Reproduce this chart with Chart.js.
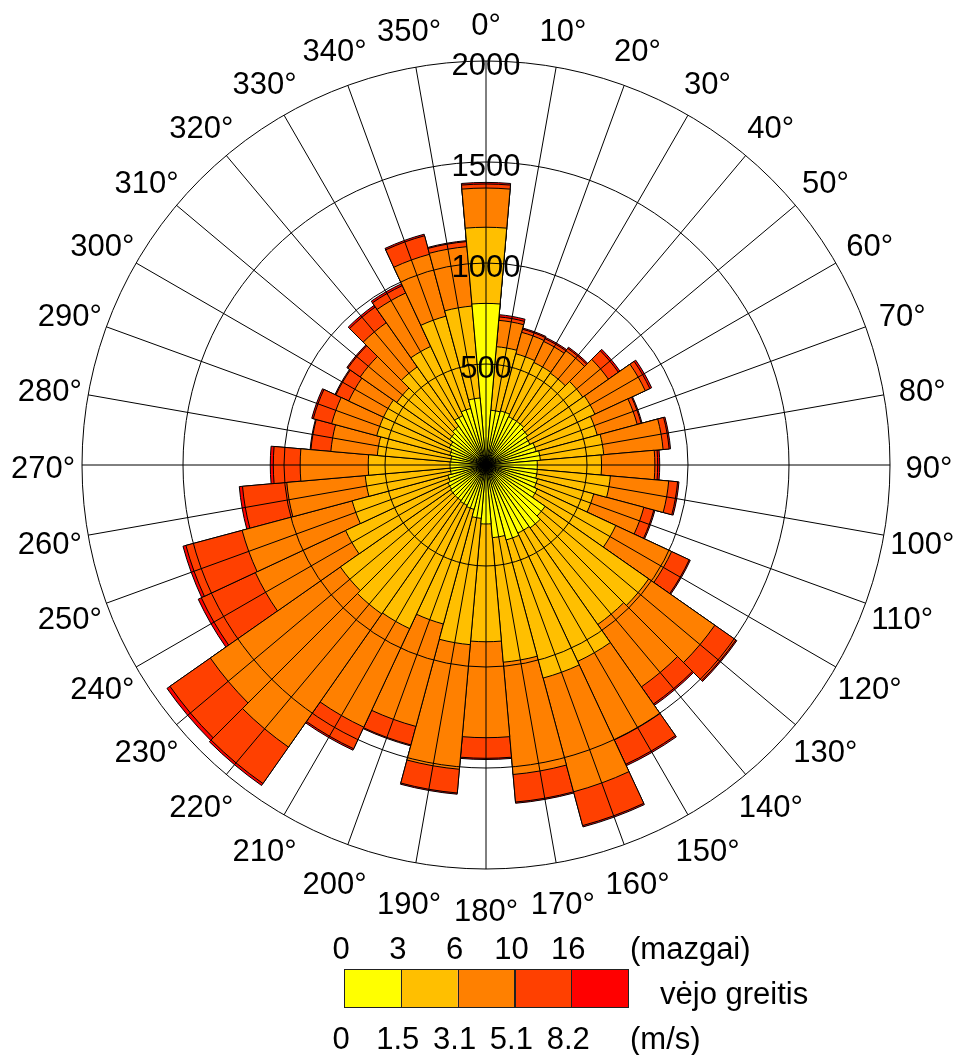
<!DOCTYPE html>
<html>
<head>
<meta charset="utf-8">
<script src="https://cdn.jsdelivr.net/npm/chart.js@4.4.1/dist/chart.umd.min.js"></script>
<style>
  html, body { margin: 0; padding: 0; background: #fff; }
  #wrap { position: relative; width: 958px; height: 1055px; }
</style>
</head>
<body>
<div id="wrap"><canvas id="rose" width="958" height="1055"></canvas></div>
<script>
// krypčių sektoriai (laipsniais), po 10°
const directions = [0, 10, 20, 30, 40, 50, 60, 70, 80, 90, 100, 110, 120, 130, 140, 150, 160, 170,
                    180, 190, 200, 210, 220, 230, 240, 250, 260, 270, 280, 290, 300, 310, 320, 330, 340, 350];

// stebėjimų skaičius kiekvienoje greičio klasėje
const speed0to15 = [800, 272, 277, 264, 264, 252, 240, 257, 270, 254, 255, 264, 280, 357, 380, 372, 384, 361,
                    292, 265, 227, 220, 215, 214, 208, 195, 178, 178, 175, 185, 200, 220, 234, 270, 290, 333];
const speed15to31 = [377, 316, 293, 296, 291, 333, 355, 313, 315, 318, 363, 288, 429, 626, 584, 701, 708, 619,
                     583, 628, 588, 674, 685, 666, 559, 491, 422, 405, 365, 375, 360, 319, 359, 378, 473, 457];
const speed31to51 = [194, 131, 110, 115, 135, 155, 275, 205, 295, 264, 290, 257, 305, 400, 377, 429, 583, 558,
                     475, 619, 525, 538, 805, 786, 493, 564, 390, 337, 231, 231, 190, 221, 267, 292, 317, 295];
const speed51to82 = [20, 17, 16, 15, 15, 60, 25, 20, 30, 14, 44, 51, 96, 127, 104, 133, 173, 137,
                     102, 118, 95, 118, 220, 244, 295, 288, 220, 133, 99, 94, 70, 75, 95, 40, 95, 25];
const speedOver82 = [8, 11, 6, 7, 7, 10, 10, 5, 7, 10, 7, 6, 6, 6, 8, 8, 7, 6,
                     6, 6, 5, 8, 12, 18, 17, 15, 16, 15, 4, 8, 5, 6, 10, 10, 8, 5];

const radialTicks = [500, 1000, 1500, 2000];
const knotLabels = ['0', '3', '6', '10', '16'];
const msLabels = ['0', '1.5', '3.1', '5.1', '8.2'];
const binColors = ['#ffff00', '#ffbf00', '#ff8000', '#ff4000', '#ff0000'];

// kaupiamosios sumos: kiekvienas sluoksnis piešiamas nuo centro
const bins = [speed0to15, speed15to31, speed31to51, speed51to82, speedOver82];
const cumulative = [];
let running = directions.map(() => 0);
bins.forEach(b => {
    running = running.map((v, i) => v + b[i]);
    cumulative.push(running.slice());
});

const FONT = '31px "Liberation Sans", Arial, sans-serif';

const overlay = {
    id: 'overlay',
    afterDatasetsDraw(chart) {
        const ctx = chart.ctx;
        const sc = chart.scales.r;
        const cx = sc.xCenter, cy = sc.yCenter;
        const R = sc.getDistanceFromCenterForValue(2000);
        ctx.save();
        ctx.strokeStyle = '#000';
        ctx.lineWidth = 1;
        radialTicks.forEach(v => {
            ctx.beginPath();
            ctx.arc(cx, cy, sc.getDistanceFromCenterForValue(v), 0, Math.PI * 2);
            ctx.stroke();
        });
        directions.forEach(d => {
            const a = (d - 90) * Math.PI / 180;
            ctx.beginPath();
            ctx.moveTo(cx, cy);
            ctx.lineTo(cx + R * Math.cos(a), cy + R * Math.sin(a));
            ctx.stroke();
        });
        ctx.fillStyle = '#000';
        ctx.font = FONT;
        ctx.textAlign = 'center';
        ctx.textBaseline = 'middle';
        radialTicks.forEach(v => {
            ctx.fillText(String(v), cx, cy - sc.getDistanceFromCenterForValue(v) + 5);
        });
        const labR = R + 39;
        directions.forEach(d => {
            const a = (d - 90) * Math.PI / 180;
            ctx.fillText(d + '°', cx + labR * Math.cos(a), cy + labR * Math.sin(a) + 4);
        });
        ctx.restore();
    },
    afterDraw(chart) {
        // legenda apačioje
        const ctx = chart.ctx;
        const x0 = 344, w = 56.8, y0 = 969, h = 38;
        ctx.save();
        binColors.forEach((c, i) => {
            ctx.fillStyle = c;
            ctx.fillRect(x0 + i * w, y0, w, h);
        });
        ctx.strokeStyle = '#222';
        ctx.lineWidth = 1;
        binColors.forEach((c, i) => ctx.strokeRect(Math.round(x0 + i * w) + 0.5, y0 + 0.5, Math.round(w), h));
        ctx.fillStyle = '#000';
        ctx.font = FONT;
        ctx.textBaseline = 'middle';
        ctx.textAlign = 'center';
        knotLabels.forEach((t, i) => ctx.fillText(t, x0 + i * w - 3, 950));
        msLabels.forEach((t, i) => ctx.fillText(t, x0 + i * w - 3, 1040));
        ctx.textAlign = 'left';
        ctx.fillText('(mazgai)', 630, 950);
        ctx.fillText('vėjo greitis', 660, 995);
        ctx.fillText('(m/s)', 630, 1040);
        ctx.restore();
    }
};

new Chart(document.getElementById('rose'), {
    type: 'polarArea',
    data: {
        labels: directions.map(d => d + '°'),
        datasets: cumulative.map((vals, i) => ({
            label: knotLabels[i],
            data: vals,
            backgroundColor: binColors[i],
            borderColor: '#000',
            borderWidth: 1
        }))
    },
    options: {
        responsive: false,
        animation: false,
        layout: { padding: { left: 82, right: 68, top: 61, bottom: 186 } },
        plugins: { legend: { display: false }, tooltip: { enabled: false } },
        scales: {
            r: {
                min: 0,
                max: 2000,
                startAngle: -5,
                ticks: { display: false },
                grid: { display: false },
                angleLines: { display: false },
                pointLabels: { display: false }
            }
        }
    },
    plugins: [overlay]
});
</script>
</body>
</html>
